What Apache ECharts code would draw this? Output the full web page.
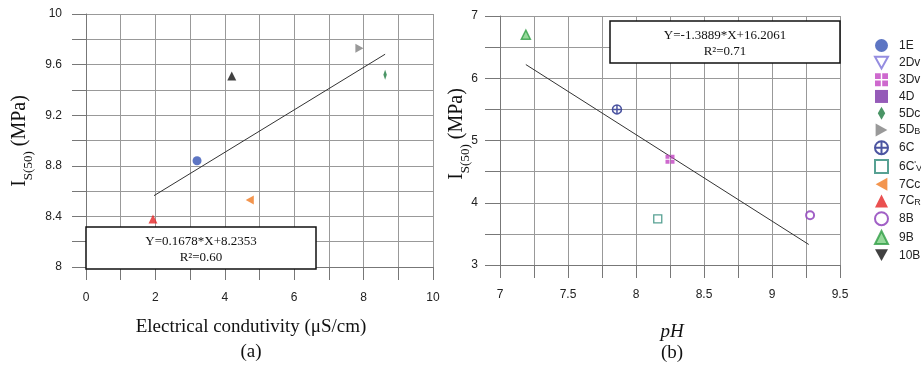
<!DOCTYPE html>
<html>
<head>
<meta charset="utf-8">
<script src="https://cdn.jsdelivr.net/npm/echarts@6/dist/echarts.min.js"></script>
<style>html,body{margin:0;padding:0;background:#fff}#c{width:921px;height:366px}</style>
</head>
<body>
<div id="c"></div>
<script>
// ---- data ----
var legendNames = ['1E','2Dv','3Dv','4D','5Dc','5DB','6C',"6C'V",'7Cc','7CR','8B','9B','10B'];
// (a) Electrical conductivity vs Is(50)
var pts_1E  = [[3.2, 8.84]];
var pts_5Dc = [[8.62, 9.52]];
var pts_5DB = [[7.88, 9.73]];
var pts_7Cc = [[4.72, 8.53]];
var pts_7CR = [[1.93, 8.38]];
var pts_10B = [[4.2, 9.51]];
var fitA = [[1.96, 8.564], [8.62, 9.682]];
// (b) pH vs Is(50)
var pts_3Dv = [[8.25, 4.70]];
var pts_6C  = [[7.86, 5.50]];
var pts_6CV = [[8.16, 3.74]];
var pts_8B  = [[9.28, 3.80]];
var pts_9B  = [[7.19, 6.70]];
var fitB = [[7.19, 6.22], [9.27, 3.33]];
var eqA = ['Y=0.1678*X+8.2353', 'R\u00b2=0.60'];
var eqB = ['Y=-1.3889*X+16.2061', 'R\u00b2=0.71'];

var chart = echarts.init(document.getElementById('c'), null, {renderer:'canvas'});
var gridCol = '#999', axisCol = '#777';
function fmtEvery(step){
  return function(v){ var r = v/step; return Math.abs(r-Math.round(r))<1e-6 ? String(+v.toFixed(2)) : ''; };
}
function axisBase(){
  return {
    type:'value',
    axisLine:{show:true, lineStyle:{color:axisCol, width:1}},
    axisTick:{show:true, length:14, lineStyle:{color:axisCol}},
    splitLine:{show:true, lineStyle:{color:gridCol, width:1}},
    axisLabel:{color:'#222', fontFamily:'Liberation Sans, Arial', fontSize:12}
  };
}
var xa0 = axisBase(); xa0.gridIndex=0; xa0.min=0; xa0.max=10; xa0.interval=1; xa0.axisLabel.formatter=fmtEvery(2); xa0.axisLabel.margin=25; xa0.axisTick.length=13;
var ya0 = axisBase(); ya0.gridIndex=0; ya0.min=8; ya0.max=10; ya0.interval=0.2; ya0.axisLabel.formatter=fmtEvery(0.4); ya0.axisLabel.margin=24;
var xa1 = axisBase(); xa1.gridIndex=1; xa1.min=7; xa1.max=9.5; xa1.interval=0.25; xa1.axisLabel.formatter=fmtEvery(0.5); xa1.axisLabel.margin=24; xa1.axisTick.length=13;
var ya1 = axisBase(); ya1.gridIndex=1; ya1.min=3; ya1.max=7; ya1.interval=0.5; ya1.axisLabel.formatter=fmtEvery(1); ya1.axisLabel.margin=22; ya1.axisTick.length=15;

var P = {
  down:'path://M0,0L10,0L5,9Z',
  right:'path://M0,0L9,5L0,10Z',
  left:'path://M9,0L0,5L9,10Z',
  grid:'path://M0,0H4V4H0Z M5,0H9V4H5Z M0,5H4V9H0Z M5,5H9V9H5Z',
  ccross:'path://M0,5A5,5,0,1,1,10,5A5,5,0,1,1,0,5Z M5,0V10 M0,5H10',
  diamond:'path://M4,0L8,7L4,14L0,7Z'
};
function sc(name, g, data, symbol, size, style){
  return {type:'scatter', name:name, xAxisIndex:g, yAxisIndex:g, data:data, symbol:symbol, symbolSize:size,
          symbolKeepAspect:true, itemStyle:style, emphasis:{disabled:true}, z:5};
}
var series = [
  sc('1E',0,pts_1E,'circle',9,{color:'#3552b4'}),
  sc('2Dv',0,[],P.down,10,{color:'#fff',borderColor:'#7b70d8',borderWidth:1.5}),
  sc('3Dv',1,pts_3Dv,P.grid,9,{color:'#c244c2'}),
  sc('4D',0,[],'rect',10,{color:'#7a32a6'}),
  sc('5Dc',0,pts_5Dc,P.diamond,[6,10],{color:'#1d7a40'}),
  sc('5DB',0,pts_5DB,P.right,9,{color:'#808080'}),
  sc('6C',1,pts_6C,P.ccross,9,{color:'#fff',borderColor:'#1f2a8a',borderWidth:1.5}),
  sc("6C'V",1,pts_6CV,'rect',8,{color:'#fff',borderColor:'#2d8a78',borderWidth:1.3}),
  sc('7Cc',0,pts_7Cc,P.left,9,{color:'#f07a22'}),
  sc('7CR',0,pts_7CR,'triangle',9,{color:'#e52424'}),
  sc('8B',1,pts_8B,'circle',8,{color:'#fff',borderColor:'#8a38b8',borderWidth:2}),
  sc('9B',1,pts_9B,'triangle',9,{color:'#7ccf82',borderColor:'#2f9e45',borderWidth:1.5}),
  sc('10B',0,pts_10B,'triangle',9,{color:'#111'}),
  {type:'line', name:'fitA', xAxisIndex:0, yAxisIndex:0, data:fitA, symbol:'none', lineStyle:{color:'#333',width:1}, silent:true, z:4},
  {type:'line', name:'fitB', xAxisIndex:1, yAxisIndex:1, data:fitB, symbol:'none', lineStyle:{color:'#333',width:1}, silent:true, z:4}
];
var legendLabel = {'5DB':'5D{sub|B}', "6C'V":"6C{sup|'}{sub|V}", '7CR':'7C{sub|R}'};
var legendData = legendNames.map(function(n){
  var o = {name:n};
  if (n==='10B') o.icon = P.down;
  return o;
});
function yTitle(x, y){
  return {type:'text', x:x, y:y, rotation:Math.PI/2,
    style:{text:'{i|I}{s|S(50)}{i| (MPa)}', align:'center', verticalAlign:'middle',
      rich:{i:{fontFamily:'Liberation Serif', fontSize:20, fill:'#111', verticalAlign:'bottom'},
            s:{fontFamily:'Liberation Serif', fontSize:13, fill:'#111', verticalAlign:'bottom', padding:[0,0,-5,0]}}}};
}
function eqBox(x,y,w,h,lines){
  return [
    {type:'rect', shape:{x:x,y:y,width:w,height:h}, style:{fill:'#fff', stroke:'#111', lineWidth:1.5}, z:10},
    {type:'text', x:x+w/2, y:y+h*0.34, style:{text:lines[0], align:'center', verticalAlign:'middle', fontFamily:'Liberation Serif', fontSize:13, fill:'#111'}, z:11},
    {type:'text', x:x+w/2, y:y+h*0.72, style:{text:lines[1], align:'center', verticalAlign:'middle', fontFamily:'Liberation Serif', fontSize:13, fill:'#111'}, z:11}
  ];
}
var graphics = [].concat(
  eqBox(86,227,230,42,eqA),
  eqBox(610,21,230,42,eqB),
  [
    yTitle(20,141), yTitle(457,134),
    {type:'text', x:251, y:327, style:{text:'Electrical condutivity (\u03bcS/cm)', align:'center', verticalAlign:'middle', fontFamily:'Liberation Serif', fontSize:19, fill:'#111'}},
    {type:'text', x:251, y:352, style:{text:'(a)', align:'center', verticalAlign:'middle', fontFamily:'Liberation Serif', fontSize:19, fill:'#111'}},
    {type:'text', x:672, y:332, style:{text:'pH', align:'center', verticalAlign:'middle', fontFamily:'Liberation Serif', fontStyle:'italic', fontSize:19, fill:'#111'}},
    {type:'text', x:672, y:353, style:{text:'(b)', align:'center', verticalAlign:'middle', fontFamily:'Liberation Serif', fontSize:19, fill:'#111'}}
  ]
);
chart.setOption({
  backgroundColor:'#fff',
  animation:false,
  grid:[{left:86, top:14, width:347, height:253}, {left:500, top:16, width:340, height:249}],
  xAxis:[xa0, xa1],
  yAxis:[ya0, ya1],
  legend:{orient:'vertical', left:869, top:34, itemWidth:13, itemHeight:13, itemGap:3.75,
    selectedMode:false, data:legendData,
    formatter:function(n){ return legendLabel[n] || n; },
    textStyle:{fontFamily:'Liberation Sans, Arial', fontSize:12, color:'#222', padding:[0,0,0,6], lineHeight:13,
      rich:{sub:{fontSize:9, verticalAlign:'bottom', lineHeight:13, padding:[4,0,0,0]}, sup:{fontSize:9, verticalAlign:'top', lineHeight:13}}}},
  graphic:graphics,
  series:series
});
</script>
</body>
</html>
